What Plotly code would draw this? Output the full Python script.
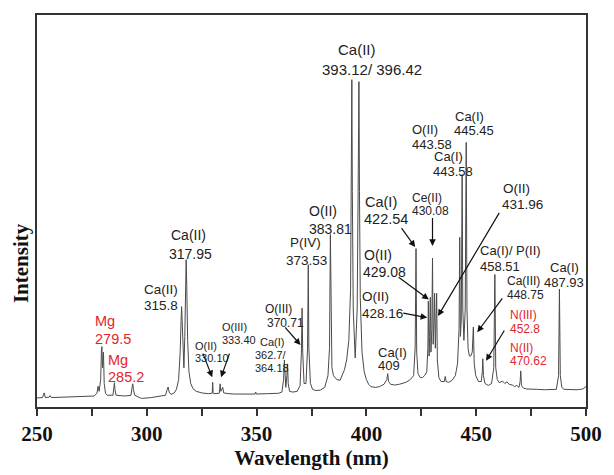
import plotly.graph_objects as go

# ---------------- data ----------------
wavelength = [
    250, 252.5, 253.3, 253.8, 255.5, 256.0, 256.5, 260, 270, 276,
    277.3, 277.8, 278.3, 279.0, 279.35, 279.55, 279.85, 280.1, 280.27, 280.6,
    281.2, 282, 284.6, 285.0, 285.25, 285.5, 286, 290, 292.8, 293.3,
    293.6, 293.9, 294.5, 297, 298, 302, 305, 308.5, 309.3, 309.7,
    310.2, 311, 312.5, 313.5, 314.5, 315.2, 315.6, 315.85, 316.1, 316.5,
    316.9, 317.3, 317.6, 317.93, 318.2, 318.6, 319.2, 320, 321, 322.5,
    325, 328, 329.8, 330.0, 330.2, 330.5, 333, 333.4, 333.7, 334.3,
    334.6, 335, 337, 340, 345, 349.3, 349.6, 349.9, 355, 360,
    361.5, 362.3, 362.65, 362.9, 363.3, 363.8, 364.1, 364.4, 365, 366.5,
    368.5, 369.8, 370.4, 370.71, 371.0, 371.6, 372.5, 373.2, 373.53, 373.8,
    374.5, 375.5, 377, 379, 381, 382.5, 383.2, 383.6, 383.9, 384.3,
    385, 386.5, 388, 389, 390, 391, 392, 392.8, 393.1, 393.37,
    393.6, 394, 394.9, 395.8, 396.3, 396.6, 396.85, 397.2, 398, 399,
    400, 401, 402, 404, 406, 408, 409.3, 409.7, 410.1, 411,
    413, 415, 418, 420, 421.5, 422.2, 422.6, 422.9, 423.5, 424.5,
    425.5, 426.5, 427.5, 428.0, 428.2, 428.55, 428.8, 429.1, 429.4, 429.8,
    430.1, 430.4, 430.8, 431.05, 431.4, 431.8, 432.0, 432.3, 433, 434,
    435.5, 435.9, 436.3, 437.5, 439, 440.5, 441.5, 442.2, 442.5, 442.8,
    443.2, 443.6, 443.9, 444.4, 445.0, 445.45, 445.8, 446.3, 446.9, 447.5,
    448.2, 448.7, 449.1, 449.8, 451, 452.3, 452.8, 453.0, 453.3, 454,
    455.5, 457, 458.0, 458.5, 458.9, 459.6, 460.5, 462, 463, 464,
    465, 466.5, 467.5, 468.5, 469.5, 470.0, 470.3, 470.6, 471.5, 473,
    475, 478, 481, 484, 486.5, 487.5, 487.9, 488.3, 489, 490,
    493, 496, 498.5, 499.5, 500,
]
intensity = [
    2.3, 2.4, 3.6, 2.4, 2.5, 2.9, 2.4, 2.5, 2.6, 2.8,
    3.5, 5.3, 4.0, 7.0, 14.5, 15.4, 10.0, 13.0, 14.0, 6.0,
    3.5, 3.0, 3.0, 5.0, 6.2, 4.5, 3.0, 2.8, 3.0, 5.0,
    5.9, 4.5, 3.0, 2.3, 2.2, 2.4, 2.7, 3.0, 4.5, 5.1,
    3.8, 3.2, 3.6, 4.5, 7.0, 14.0, 22.0, 25.6, 22.0, 12.0,
    10.0, 18.0, 32.0, 37.6, 31.0, 17.0, 9.0, 6.0, 4.7, 4.0,
    3.6, 3.4, 3.5, 6.3, 3.6, 3.4, 3.5, 5.9, 4.0, 4.5,
    5.0, 3.6, 3.4, 3.3, 3.2, 3.3, 3.8, 3.3, 3.4, 3.5,
    3.8, 7.0, 12.0, 7.0, 5.0, 8.0, 11.0, 6.0, 4.0, 3.8,
    4.0, 5.5, 14.0, 25.2, 14.0, 6.0, 6.0, 15.0, 36.3, 15.0,
    6.0, 4.5, 4.2, 4.3, 5.0, 8.0, 15.0, 44.0, 18.0, 10.0,
    8.0, 7.0, 6.8, 8.0, 9.5, 12.0, 17.0, 30.0, 60.0, 83.5,
    55.0, 25.0, 12.5, 25.0, 60.0, 83.0, 55.0, 28.0, 14.0, 9.0,
    7.0, 5.8, 5.2, 5.0, 5.2, 5.8, 7.0, 8.5, 6.5, 5.8,
    5.6, 5.8, 6.3, 7.0, 8.0, 15.0, 40.4, 14.0, 8.5, 7.5,
    7.5, 8.0, 9.0, 15.0, 27.0, 13.0, 18.0, 28.0, 14.0, 20.0,
    38.0, 16.0, 22.0, 29.0, 15.0, 22.0, 29.0, 12.0, 7.5, 6.5,
    6.5, 7.8, 6.5, 6.3, 6.8, 8.0, 11.0, 20.0, 43.3, 18.0,
    22.0, 59.3, 25.0, 17.0, 25.0, 67.5, 25.0, 15.0, 13.0, 13.0,
    14.0, 20.4, 11.0, 8.0, 6.5, 6.5, 9.0, 12.3, 8.0, 6.0,
    5.5, 6.0, 10.0, 33.8, 10.0, 7.0, 6.2, 6.6, 6.0, 6.4,
    5.8, 5.6, 5.2, 5.5, 5.0, 6.5, 9.2, 5.5, 4.8, 4.6,
    4.5, 4.5, 4.4, 4.4, 4.5, 8.0, 30.1, 8.0, 5.0, 4.5,
    4.4, 4.4, 4.6, 4.9, 5.2,
]

x_tick_values = [250, 300, 350, 400, 450, 500]
x_tick_labels = ["250", "300", "350", "400", "450", "500"]

# peak labels: (text, colour key)
label_texts = [
    "Ca(II)", "393.12/ 396.42", "Ca(II)", "315.8", "Ca(II)", "317.95",
    "Mg", "279.5", "Mg", "285.2", "O(II)", "330.10", "O(III)", "333.40",
    "Ca(I)", "362.7/", "364.18", "O(III)", "370.71", "P(IV)", "373.53",
    "O(II)", "383.81", "Ca(I)", "422.54", "O(II)", "429.08", "O(II)", "428.16",
    "Ca(I)", "409", "Ce(II)", "430.08", "O(II)", "443.58", "Ca(I)", "443.58",
    "Ca(I)", "445.45", "O(II)", "431.96", "Ca(I)/ P(II)", "458.51",
    "Ca(III)", "448.75", "N(III)", "452.8", "N(II)", "470.62", "Ca(I)", "487.93",
]

# ---------------- figure ----------------
fig = go.Figure()
fig.add_trace(go.Scatter(x=wavelength, y=intensity, mode="lines",
                         line=dict(color="#4a4a4a", width=1), hoverinfo="skip"))

BLACK = "#222222"
RED = "#e3262b"
# label placement (layout): x, y in data coords, anchor, size, colour
label_layout = [
    (395.9, 91.1, "center", 15, BLACK), (402.6, 86.2, "center", 15, BLACK),
    (306.6, 30.1, "center", 13.5, BLACK), (306.6, 26.0, "center", 13.5, BLACK),
    (319.0, 43.8, "center", 14, BLACK), (320.0, 39.1, "center", 14, BLACK),
    (276.1, 21.9, "left", 14.5, RED), (276.1, 17.4, "left", 14.5, RED),
    (281.9, 12.1, "left", 14.5, RED), (281.9, 7.7, "left", 14.5, RED),
    (321.3, 15.6, "left", 11, BLACK), (321.3, 12.5, "left", 11, BLACK),
    (333.9, 20.3, "left", 11, BLACK), (333.9, 17.0, "left", 11, BLACK),
    (351.3, 16.7, "left", 11, BLACK), (348.6, 13.2, "left", 11, BLACK), (348.6, 9.9, "left", 11, BLACK),
    (353.5, 25.0, "left", 12, BLACK), (354.4, 21.4, "left", 12, BLACK),
    (364.7, 41.9, "left", 13.5, BLACK), (362.9, 37.5, "left", 13.5, BLACK),
    (373.6, 49.9, "left", 14, BLACK), (373.6, 45.3, "left", 14, BLACK),
    (399.1, 52.3, "left", 14.5, BLACK), (398.6, 48.0, "left", 14.5, BLACK),
    (398.6, 38.8, "left", 14, BLACK), (398.2, 34.4, "left", 14, BLACK),
    (397.7, 28.1, "left", 13.5, BLACK), (397.7, 23.8, "left", 13.5, BLACK),
    (404.9, 14.0, "left", 13, BLACK), (404.9, 10.5, "left", 13, BLACK),
    (420.5, 53.4, "left", 12, BLACK), (420.5, 50.1, "left", 12, BLACK),
    (420.5, 70.8, "left", 13, BLACK), (420.1, 66.9, "left", 13, BLACK),
    (430.3, 63.8, "left", 13, BLACK), (429.9, 60.0, "left", 13, BLACK),
    (439.7, 74.1, "left", 13, BLACK), (439.3, 70.5, "left", 13, BLACK),
    (461.7, 55.8, "left", 13.5, BLACK), (461.2, 51.7, "left", 13.5, BLACK),
    (451.4, 39.8, "left", 13, BLACK), (451.4, 35.9, "left", 13, BLACK),
    (463.5, 32.2, "left", 12, BLACK), (463.5, 28.5, "left", 12, BLACK),
    (464.8, 23.4, "left", 12, RED), (464.8, 19.9, "left", 12, RED),
    (464.8, 15.0, "left", 12, RED), (464.8, 11.7, "left", 12, RED),
    (483.1, 35.5, "left", 13, BLACK), (480.5, 31.8, "left", 13, BLACK),
]

annotations = []
for t, (lx, ly, anc, sz, col) in zip(label_texts, label_layout):
    annotations.append(dict(x=lx, y=ly, xref="x", yref="y", text=t, showarrow=False,
                            xanchor=anc, yanchor="middle", borderpad=0,
                            font=dict(family="Liberation Sans, Arial", size=sz, color=col)))

# arrows: (tail x, tail y, tip x, tip y) in data coords
arrows = [
    (325.3, 14.0, 329.8, 7.6), (337.9, 14.0, 333.8, 7.6),
    (362.4, 20.7, 370.0, 15.8), (415.5, 46.0, 422.2, 40.8),
    (414.0, 33.4, 428.4, 27.4), (416.1, 24.0, 427.7, 22.8),
    (430.1, 48.6, 430.1, 41.1), (460.9, 49.9, 432.6, 23.2),
    (462.4, 28.1, 450.5, 19.1), (463.2, 19.9, 454.5, 11.8),
]
for tx, ty, hx, hy in arrows:
    annotations.append(dict(x=hx, y=hy, ax=tx, ay=ty, xref="x", yref="y", axref="x", ayref="y",
                            text="", showarrow=True, arrowhead=2, arrowsize=1.1,
                            arrowwidth=1.2, arrowcolor="#111111", standoff=0, startstandoff=0))

annotations.append(dict(x=-0.03, y=0.366, xref="paper", yref="paper", text="Intensity",
                        showarrow=False, textangle=-90, xanchor="center", yanchor="middle",
                        font=dict(family="Liberation Serif, Times New Roman", size=21,
                                  color="#111111", weight="bold")))

fig.update_layout(
    width=614, height=475,
    margin=dict(l=37, r=18, t=15, b=54),
    paper_bgcolor="white", plot_bgcolor="white",
    showlegend=False,
    annotations=annotations,
    xaxis=dict(range=[250, 500], tickvals=x_tick_values, ticktext=x_tick_labels,
               ticks="outside", ticklen=7, tickwidth=1.5, tickcolor="#333333",
               minor=dict(dtick=25, tick0=250, ticks="outside", ticklen=7, tickwidth=1.5,
                          tickcolor="#333333", showgrid=False),
               showline=True, linecolor="#333333", linewidth=1.6, mirror=True,
               showgrid=False, zeroline=False,
               tickfont=dict(family="Liberation Serif, Times New Roman", size=21,
                             color="#111111", weight="bold"),
               title=dict(text="Wavelength (nm)", standoff=2,
                          font=dict(family="Liberation Serif, Times New Roman", size=21,
                                    color="#111111", weight="bold"))),
    yaxis=dict(range=[0, 100], showticklabels=False, ticks="", showline=True,
               linecolor="#333333", linewidth=1.6, mirror=True, showgrid=False, zeroline=False),
)

fig.write_html("out.html")
